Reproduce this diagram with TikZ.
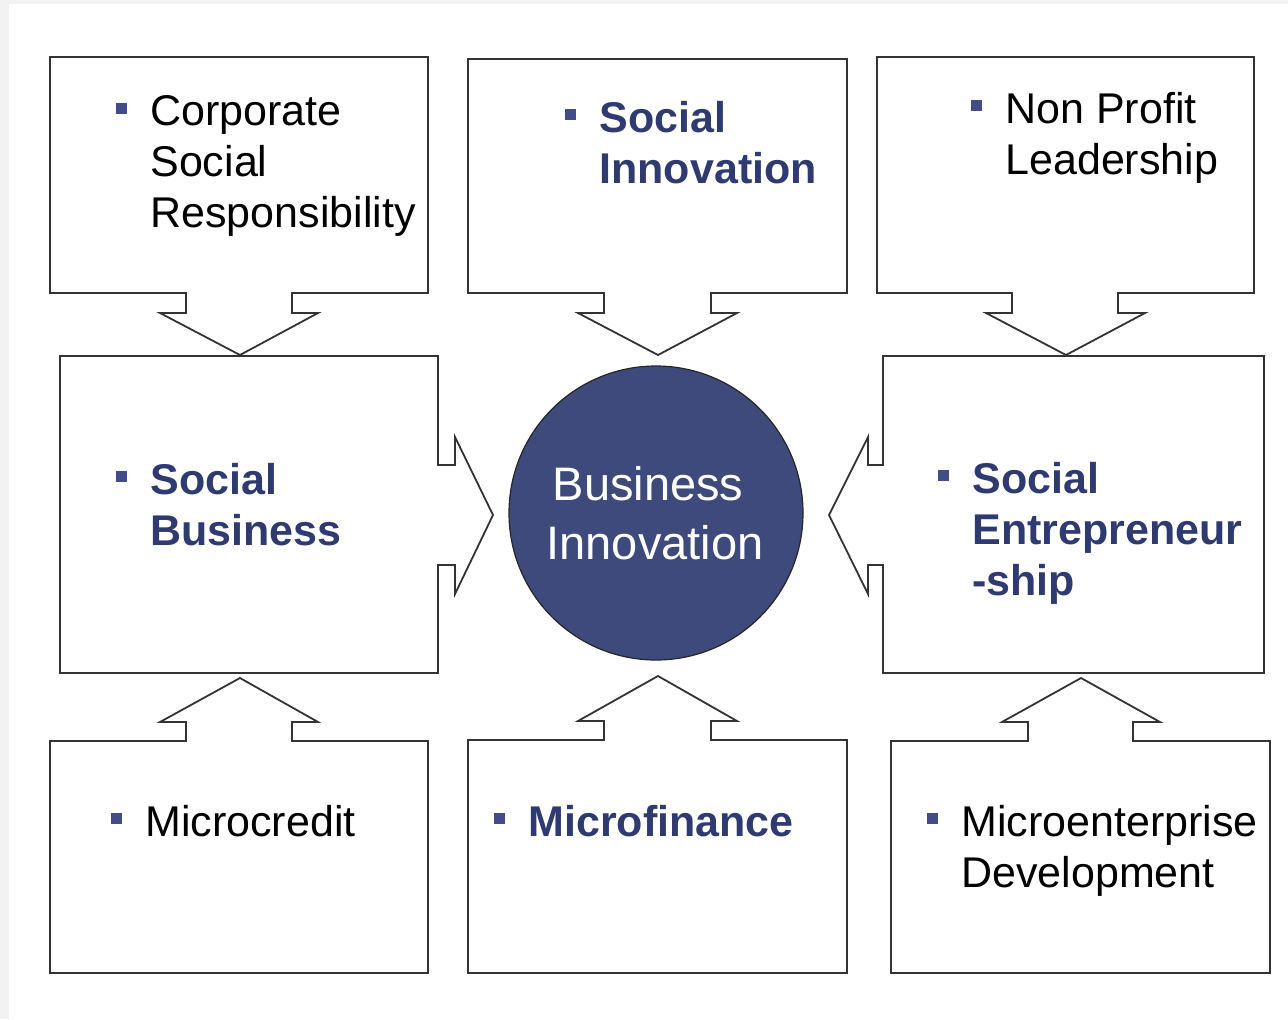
\documentclass[tikz,border=0pt]{standalone}
\usepackage{fontspec}
\setmainfont{Liberation Sans}
\usepackage{tikz}
\definecolor{navy}{RGB}{46,58,112}
\definecolor{discblue}{RGB}{61,74,123}
\definecolor{bulletblue}{RGB}{65,76,136}
\tikzstyle{frame}=[draw=black!80,line width=0.9pt,fill=white,line join=miter]
\tikzstyle{item}=[anchor=north west,inner sep=0pt,align=left,font=\fontsize{21.5}{25.5}\selectfont]
\tikzstyle{keyitem}=[item,text=navy,font=\fontsize{21.5}{25.5}\selectfont\bfseries]
\tikzstyle{bulletsq}=[fill=bulletblue,inner sep=0pt,minimum size=5.5pt]
\tikzstyle{disctext}=[anchor=base,inner sep=0pt,text=white,font=\fontsize{23.5}{29.5}\selectfont]

\begin{document}
\begin{tikzpicture}[x=0.5pt,y=-0.5pt]
          \useasboundingbox (0,0) rectangle (1288,1019);
          \fill[black!5] (0,0) rectangle (1288,1019);
          \fill[white] (9,4) rectangle (1288,1019);

          % top row, arrows pointing down
          \draw[frame] (50,57)--(428,57)--(428,293)--(292,293)--(292,313)--(318,313)--(240,355)--(160,313)--(186,313)--(186,293)--(50,293)--cycle;
          \draw[frame] (468,59)--(847,59)--(847,293)--(711,293)--(711,313)--(737,313)--(658,355)--(578,313)--(604,313)--(604,293)--(468,293)--cycle;
          \draw[frame] (877,57)--(1254,57)--(1254,293)--(1118,293)--(1118,313)--(1145,313)--(1066,355)--(986,313)--(1012,313)--(1012,293)--(877,293)--cycle;

          % middle row, arrows pointing to the disc
          \draw[frame] (60,356)--(438,356)--(438,465)--(455,465)--(455,437)--(493,515)--(455,594)--(455,565)--(438,565)--(438,673)--(60,673)--cycle;
          \draw[frame] (883,356)--(1264,356)--(1264,673)--(883,673)--(883,565)--(868,565)--(868,594)--(829,515)--(868,437)--(868,465)--(883,465)--cycle;

          % bottom row, arrows pointing up
          \draw[frame] (50,741)--(186,741)--(186,722)--(160,722)--(240,678)--(318,722)--(292,722)--(292,741)--(428,741)--(428,973)--(50,973)--cycle;
          \draw[frame] (468,740)--(604,740)--(604,721)--(578,721)--(658,676)--(737,721)--(711,721)--(711,740)--(847,740)--(847,973)--(468,973)--cycle;
          \draw[frame] (891,741)--(1028,741)--(1028,722)--(1002,722)--(1081,678)--(1160,722)--(1133,722)--(1133,741)--(1270,741)--(1270,973)--(891,973)--cycle;

          \node[circle,draw=black!85,line width=0.6pt,fill=discblue,minimum size=147pt,inner sep=0pt] (bi) at (656,513) {};
          \node[disctext] (bi1) at (648,500) {Business};
          \node[disctext] (bi2) at (655,559) {Innovation};

          \node[item] (csr) at (150,95) {Corporate\\Social\\Responsibility};
          \node[keyitem] (socinn) at (599,101) {Social\\Innovation};
          \node[item] (nonprofit) at (1005,92) {Non Profit\\Leadership};
          \node[keyitem] (socbus) at (150,463) {Social\\Business};
          \node[keyitem] (socent) at (972,462) {Social\\Entrepreneur\\-ship};
          \node[item] (mcredit) at (145,805) {Microcredit};
          \node[keyitem] (mfinance) at (528,805) {Microfinance};
          \node[item] (medev) at (961,805) {Microenterprise\\Development};

          \foreach \t in {csr,socinn,nonprofit,socbus,socent,mcredit,mfinance,medev}
            \node[bulletsq] (\t-b) at ([xshift=-14.5pt,yshift=-6.75pt]\t.north west) {};
\end{tikzpicture}
\end{document}
